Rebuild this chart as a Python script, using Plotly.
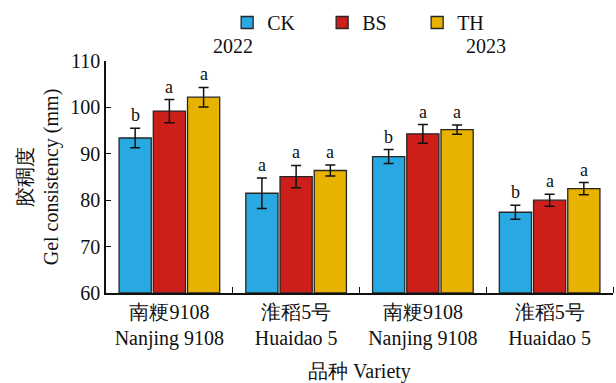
import plotly.graph_objects as go

# Gel consistency (mm) of two rice varieties in 2022 and 2023 under three treatments
varieties = ["南粳9108<br>Nanjing 9108", "淮稻5号<br>Huaidao 5",
             "南粳9108<br>Nanjing 9108", "淮稻5号<br>Huaidao 5"]
years = ["2022", "2023"]
treatments = ["CK", "BS", "TH"]

ck_mean = [93.4, 81.5, 89.4, 77.4]
bs_mean = [99.2, 85.1, 94.3, 80.0]
th_mean = [102.2, 86.4, 95.2, 82.5]

ck_sd = [2.1, 3.3, 1.5, 1.5]
bs_sd = [2.5, 2.4, 2.0, 1.3]
th_sd = [2.1, 1.2, 1.0, 1.3]

ck_sig = ["b", "a", "b", "b"]
bs_sig = ["a", "a", "a", "a"]
th_sig = ["a", "a", "a", "a"]

colors = {"CK": "#29A9E1", "BS": "#CC1F1A", "TH": "#E8B200"}
FONT = "Liberation Serif"

means = {"CK": ck_mean, "BS": bs_mean, "TH": th_mean}
sds = {"CK": ck_sd, "BS": bs_sd, "TH": th_sd}
sigs = {"CK": ck_sig, "BS": bs_sig, "TH": th_sig}

x_pos = list(range(len(varieties)))
Y0 = 60

fig = go.Figure()
# bars drawn from the axis floor up to each mean
for t in treatments:
    fig.add_trace(go.Bar(
        name=t, x=x_pos, y=[m - Y0 for m in means[t]], base=Y0,
        marker=dict(color=colors[t], line=dict(color="#262626", width=1.3)),
        error_y=dict(type="data", array=sds[t], color="#111111",
                     thickness=1.5, width=5),
        offsetgroup=t,
    ))

# significance letters above each error bar
n = len(treatments)
bargap, groupgap = 0.19, 0.06
slot = (1 - bargap) / n
annotations = []
for k, t in enumerate(treatments):
    offset = -(1 - bargap) / 2 + slot * (k + 0.5)
    for i, x in enumerate(x_pos):
        annotations.append(dict(
            x=x + offset, y=means[t][i] + sds[t][i], xref="x", yref="y",
            text=sigs[t][i], showarrow=False, yanchor="bottom", yshift=1,
            font=dict(size=18, family=FONT, color="#111111"),
        ))

# year labels above each pair of varieties
for j, yr in enumerate(years):
    annotations.append(dict(
        x=2 * j + 0.5, y=1.0, xref="x", yref="paper", yshift=15,
        text=yr, showarrow=False, yanchor="middle",
        font=dict(size=20, family=FONT, color="#111111"),
    ))

fig.update_layout(
    width=616, height=383,
    margin=dict(l=106, r=3, t=58, b=90),
    paper_bgcolor="white", plot_bgcolor="white",
    barmode="group", bargap=bargap, bargroupgap=groupgap,
    font=dict(family=FONT, size=20, color="#111111"),
    showlegend=True,
    legend=dict(orientation="h", x=0.52, xanchor="center", y=1.166,
                yanchor="middle", yref="paper",
                font=dict(size=20, family=FONT), entrywidth=50,
                itemwidth=30, bgcolor="rgba(0,0,0,0)"),
    annotations=annotations,
    xaxis=dict(
        range=[-0.5, 3.5], tickmode="array", tickvals=x_pos, ticktext=varieties,
        ticks="", showline=True, linecolor="#111111", linewidth=1.5,
        showgrid=False, zeroline=False,
        minor=dict(tickmode="array", tickvals=[0.5, 1.5, 2.5, 3.5],
                   ticks="inside", ticklen=6, tickcolor="#111111", showgrid=False),
        title=dict(text="品种 Variety", standoff=16, font=dict(size=20, family=FONT)),
        tickfont=dict(size=20, family=FONT),
    ),
    yaxis=dict(
        range=[60, 110], tickvals=[60, 70, 80, 90, 100, 110],
        ticks="inside", ticklen=5, tickcolor="#111111",
        showline=True, linecolor="#111111", linewidth=1.5,
        showgrid=False, zeroline=False,
        title=dict(text="胶稠度<br>Gel consistency (mm)", standoff=6,
                   font=dict(size=20, family=FONT)),
        tickfont=dict(size=20, family=FONT),
    ),
)

fig.write_html("out.html")
